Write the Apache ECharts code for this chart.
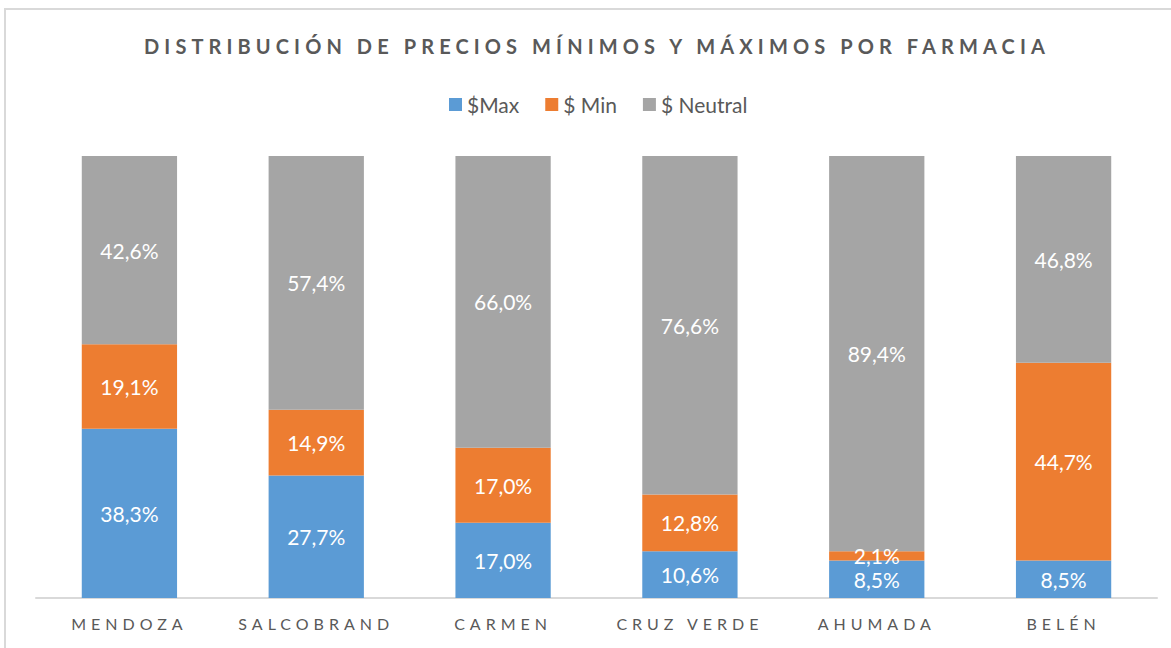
<!DOCTYPE html>
<html>
<head>
<meta charset="utf-8">
<title>Distribución de precios</title>
<script src="https://cdn.jsdelivr.net/npm/echarts@6/dist/echarts.min.js"></script>
<style>
  html, body { margin: 0; padding: 0; background: #fff; }
  #chart { width: 1171px; height: 648px; }
</style>
</head>
<body>
<div id="chart"></div>
<script>
'use strict';

const TITLE = 'DISTRIBUCIÓN DE PRECIOS MÍNIMOS Y MÁXIMOS POR FARMACIA'
const categories = ['MENDOZA', 'SALCOBRAND', 'CARMEN', 'CRUZ VERDE', 'AHUMADA', 'BELÉN']
const maxValues = [38.3, 27.7, 17.0, 10.6, 8.5, 8.5]
const minValues = [19.1, 14.9, 17.0, 12.8, 2.1, 44.7]
const neutralValues = [42.6, 57.4, 66.0, 76.6, 89.4, 46.8]
const seriesNames = ['$Max', '$ Min', '$ Neutral']
const colors = ['#5B9BD5', '#ED7D31', '#A5A5A5']

// spaced caps (Excel style) for the title and the category labels
const spaced = {}
spaced[TITLE] = '5.1px'
categories.forEach(function (c) { spaced[c] = '5px' })

const FONT = 'Lato, "Open Sans", sans-serif'

function pct(p) {
  return p.value.toFixed(1).replace('.', ',') + '%'
}

function bar(name, data, color) {
  return {
    name: name,
    type: 'bar',
    stack: 'total',
    barWidth: '51%',
    data: data,
    itemStyle: { color: color },
    label: {
      show: true,
      position: 'inside',
      color: '#fff',
      fontFamily: FONT,
      fontSize: 21,
      formatter: pct
    }
  }
}

const dom = document.getElementById('chart')
const chart = echarts.init(dom, null, { renderer: 'svg' })
const option = {
  animation: false,
  backgroundColor: '#fff',
  graphic: [{
    type: 'rect',
    shape: { x: 5, y: 9, width: 1200, height: 700 },
    style: { fill: 'none', stroke: '#d9d9d9', lineWidth: 2 },
    silent: true
  }],
  title: {
    text: TITLE,
    left: 592,
    textAlign: 'center',
    top: 31,
    textStyle: {
      fontFamily: FONT,
      fontSize: 20,
      fontWeight: 'bold',
      color: '#595959'
    }
  },
  legend: {
    data: seriesNames,
    top: 89,
    left: 444,
    icon: 'rect',
    itemWidth: 13,
    itemHeight: 13,
    itemGap: 26,
    textStyle: { fontFamily: FONT, fontSize: 21, color: '#595959' }
  },
  grid: {
    left: 36,
    right: 14,
    top: 156,
    bottom: 50
  },
  xAxis: {
    type: 'category',
    data: categories,
    axisLine: { lineStyle: { color: '#d9d9d9', width: 2 } },
    axisTick: { show: false },
    axisLabel: {
      margin: 17,
      fontFamily: FONT,
      fontSize: 16,
      color: '#595959'
    }
  },
  yAxis: {
    type: 'value',
    min: 0,
    max: 100,
    show: false,
    splitLine: { show: false }
  },
  series: [
    bar(seriesNames[0], maxValues, colors[0]),
    bar(seriesNames[1], minValues, colors[1]),
    bar(seriesNames[2], neutralValues, colors[2])
  ]
}

function spaceLetters() {
  dom.querySelectorAll('svg text').forEach(function (t) {
    const ls = spaced[t.textContent]
    if (ls) t.style.letterSpacing = ls
  })
}

chart.on('finished', spaceLetters)
chart.setOption(option)
spaceLetters()
</script>
</body>
</html>
